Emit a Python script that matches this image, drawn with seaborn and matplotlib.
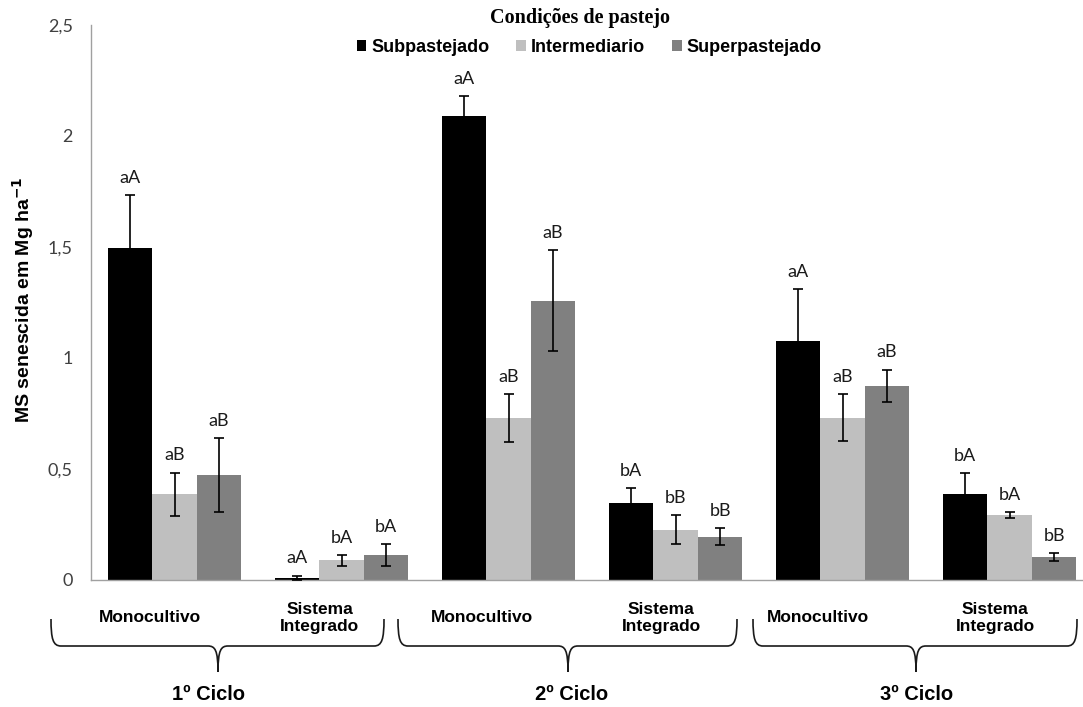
import numpy as np
import pandas as pd
import matplotlib
matplotlib.use("Agg")
import matplotlib.pyplot as plt
import seaborn as sns
from matplotlib.path import Path
from matplotlib.patches import PathPatch, Patch
from matplotlib.transforms import blended_transform_factory

# ---------------- data ----------------
groups = ["Mono1", "SI1", "Mono2", "SI2", "Mono3", "SI3"]
group_labels = ["Monocultivo", "Sistema\nIntegrado", "Monocultivo", "Sistema\nIntegrado",
                "Monocultivo", "Sistema\nIntegrado"]
cycles = ["1º Ciclo", "2º Ciclo", "3º Ciclo"]
conditions = ["Subpastejado", "Intermediario", "Superpastejado"]

subpastejado = [1.495, 0.010, 2.090, 0.347, 1.075, 0.387]
intermediario = [0.387, 0.088, 0.730, 0.226, 0.730, 0.293]
superpastejado = [0.473, 0.112, 1.258, 0.195, 0.875, 0.104]

err_sub = [0.238, 0.010, 0.090, 0.068, 0.235, 0.095]
err_int = [0.097, 0.025, 0.107, 0.065, 0.106, 0.013]
err_sup = [0.167, 0.050, 0.228, 0.038, 0.072, 0.018]

let_sub = ["aA", "aA", "aA", "bA", "aA", "bA"]
let_int = ["aB", "bA", "aB", "bB", "aB", "bA"]
let_sup = ["aB", "bA", "aB", "bB", "aB", "bB"]

yticks = [0, 0.5, 1, 1.5, 2, 2.5]
ytick_labels = ["0", "0,5", "1", "1,5", "2", "2,5"]

colors = ["#000000", "#BFBFBF", "#808080"]

values = [subpastejado, intermediario, superpastejado]
errors = [err_sub, err_int, err_sup]
letters = [let_sub, let_int, let_sup]

rows = []
for c, vals in zip(conditions, values):
    for g, v in zip(groups, vals):
        rows.append({"grupo": g, "condicao": c, "valor": v})
df = pd.DataFrame(rows)

# ---------------- figure ----------------
W, H = 1083, 707
fig = plt.figure(figsize=(W / 100, H / 100), dpi=100)
fig.patch.set_facecolor("white")

def fx(px):
    return px / W

def fy(py):
    return 1 - py / H

ax = fig.add_axes([fx(91), fy(580), 1002 / W, 555 / H])
ax.set_facecolor("white")

sns.barplot(data=df, x="grupo", y="valor", hue="condicao", order=groups,
            hue_order=conditions, palette=colors, errorbar=None, width=0.8,
            linewidth=0, saturation=1, ax=ax, legend=True)

ax.set_xlim(-0.5, 5.5)
ax.set_ylim(0, 2.5)

# error bars + letters
bar_containers = list(ax.containers)
for ci, cont in enumerate(bar_containers):
    for bi, bar in enumerate(cont.patches):
        xc = bar.get_x() + bar.get_width() / 2
        h = bar.get_height()
        e = errors[ci][bi]
        ax.errorbar(xc, h, yerr=e, fmt="none", ecolor="black", elinewidth=1.2,
                    capsize=3.5, capthick=1.2, zorder=5)
        ax.annotate(letters[ci][bi], (xc, h + e), xytext=(0, 12.5),
                    textcoords="offset points", ha="center", va="center",
                    fontsize=13, family="Lato", color="#1a1a1a")

# axes style
for s in ["top", "right"]:
    ax.spines[s].set_visible(False)
ax.spines["left"].set_color("#A0A0A0")
ax.spines["bottom"].set_color("#A0A0A0")
ax.spines["left"].set_linewidth(1.0)
ax.spines["bottom"].set_linewidth(1.0)
ax.set_yticks(yticks)
ax.set_yticklabels(ytick_labels, family="Lato", fontsize=13, color="#404040")
ax.tick_params(axis="y", length=0, pad=13)
ax.set_xticks([])
ax.set_xlabel("")
ax.set_ylabel("")
if ax.legend_ is not None:
    ax.legend_.remove()
ax.grid(False)

# y label
fig.text(fx(23), fy(300), r"MS senescida em Mg ha$^{\mathbf{-1}}$", rotation=90,
         ha="center", va="center", fontsize=14, fontweight="bold",
         family="Liberation Sans")

# group labels (below axis)
trans = blended_transform_factory(ax.transData, fig.transFigure)
offsets = [-0.145, -0.13, -0.16, -0.085, -0.15, -0.085]
for i, (lab, off) in enumerate(zip(group_labels, offsets)):
    ax.text(i + off, fy(618), lab, transform=trans, ha="center", va="center",
            fontsize=12.5, fontweight="bold", family="Liberation Sans",
            linespacing=1.1, clip_on=False)

# braces
braces = [(51, 218, 384), (398, 568, 737), (753, 916, 1077)]
cycle_x = [208, 572, 917]
yt, ym, yb = 619, 646, 672

def P(x, y):
    return (fx(x), fy(y))

for (x0, xm, x1), cx, lab in zip(braces, cycle_x, cycles):
    verts = [P(x0, yt), P(x0, yt + 20), P(x0 + 2, ym), P(x0 + 10, ym),
             P(xm - 10, ym),
             P(xm - 3, ym), P(xm, ym + 4), P(xm, yb),
             P(xm, yb),
             P(xm, ym + 4), P(xm + 3, ym), P(xm + 10, ym),
             P(x1 - 10, ym),
             P(x1 - 2, ym), P(x1, yt + 20), P(x1, yt)]
    codes = [Path.MOVETO, Path.CURVE4, Path.CURVE4, Path.CURVE4,
             Path.LINETO,
             Path.CURVE4, Path.CURVE4, Path.CURVE4,
             Path.MOVETO,
             Path.CURVE4, Path.CURVE4, Path.CURVE4,
             Path.LINETO,
             Path.CURVE4, Path.CURVE4, Path.CURVE4]
    patch = PathPatch(Path(verts, codes), transform=fig.transFigure,
                      facecolor="none", edgecolor="#1a1a1a", lw=1.2)
    fig.add_artist(patch)
    fig.text(fx(cx), fy(695), lab, ha="center", va="center", fontsize=14.5,
             fontweight="bold", family="Liberation Sans")

# legend
handles = [Patch(facecolor=c, edgecolor="none") for c in colors]
fig.legend(handles, conditions, ncol=3, loc="center",
           bbox_to_anchor=(fx(589), fy(47)), frameon=False,
           handlelength=0.55, handleheight=0.55, handletextpad=0.25,
           columnspacing=1.5, borderpad=0,
           prop={"family": "Liberation Sans", "weight": "bold", "size": 13})
fig.text(fx(580), fy(18), "Condições de pastejo", ha="center", va="center",
         fontsize=14.5, fontweight="bold", family="Liberation Serif")

fig.savefig("out.png", dpi=100, facecolor="white")
